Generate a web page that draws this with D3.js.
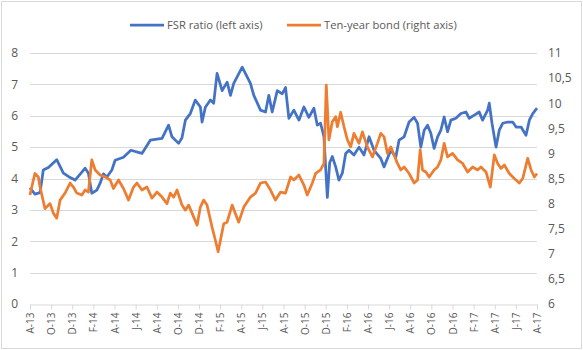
<!DOCTYPE html>
<html>
<head>
<meta charset="utf-8">
<script src="https://cdn.jsdelivr.net/npm/d3@7"></script>
<style>
  html, body { margin: 0; padding: 0; background: #fff; }
  svg text { font-family: "Open Sans", "Noto Sans", sans-serif; fill: #595959; }
</style>
</head>
<body>
<div id="chart"></div>
<script>
/* FSR ratio vs ten-year bond, dual axis line chart */

// x positions are months since Aug 2013
const monthLabels = ["A-13", "O-13", "D-13", "F-14", "A-14", "J-14", "A-14", "O-14", "D-14",
  "F-15", "A-15", "J-15", "A-15", "O-15", "D-15", "F-16", "A-16", "J-16", "A-16",
  "O-16", "D-16", "F-17", "A-17", "J-17", "A-17"];
const leftTicks = [0, 1, 2, 3, 4, 5, 6, 7, 8];
const rightTicks = [6, 6.5, 7, 7.5, 8, 8.5, 9, 9.5, 10, 10.5, 11];
const seriesNames = ["FSR ratio (left axis)", "Ten-year bond (right axis)"];

const fsr = [
  [0, 3.7], [0.47, 3.5], [0.95, 3.55], [1.26, 4.27], [1.74, 4.35], [2.53, 4.6], [3.16, 4.17],
  [3.7, 4.05], [4.27, 3.95], [4.91, 4.2], [5.22, 4.33], [5.53, 4.17], [5.85, 3.53], [6.33, 3.63],
  [6.64, 3.85], [6.95, 4.15], [7.28, 4.05], [7.75, 4.27], [8.06, 4.58], [8.85, 4.68], [9.55, 4.9],
  [10.6, 4.8], [11.39, 5.22], [12.5, 5.28], [13.12, 5.7], [13.44, 5.33], [14.07, 5.12],
  [14.39, 5.3], [14.71, 5.86], [15.18, 6.07], [15.65, 6.5], [16.13, 6.28], [16.29, 5.8],
  [16.6, 6.27], [17.08, 6.5], [17.39, 6.4], [17.71, 7.35], [18.19, 6.8], [18.66, 7.07],
  [18.98, 6.65], [19.29, 7.03], [19.61, 7.24], [20.09, 7.55], [20.56, 7.24], [20.87, 7.03],
  [21.19, 6.65], [21.82, 6.18], [22.3, 6.12], [22.61, 6.65], [22.93, 6.12], [23.41, 6.8],
  [23.88, 6.7], [24.19, 6.9], [24.51, 5.92], [24.98, 6.18], [25.46, 5.86], [25.93, 6.28],
  [26.4, 5.95], [26.88, 6.24], [27.2, 5.7], [27.51, 5.76], [27.83, 5.33], [28.15, 3.4],
  [28.37, 4.5], [28.62, 4.7], [28.94, 4.37], [29.25, 3.95], [29.57, 4.17], [29.89, 4.8],
  [30.2, 4.9], [30.67, 4.75], [31.15, 5.0], [31.62, 4.75], [32.1, 5.33], [32.57, 4.9],
  [33.21, 4.64], [33.52, 4.37], [34.16, 4.9], [34.63, 4.68], [34.94, 5.22], [35.42, 5.33],
  [35.89, 5.8], [36.37, 5.95], [36.69, 5.76], [37.0, 5.0], [37.32, 5.54], [37.64, 5.7],
  [37.95, 5.44], [38.26, 4.96], [38.59, 5.33], [38.9, 5.54], [39.21, 5.96], [39.53, 5.49],
  [39.85, 5.86], [40.32, 5.92], [40.8, 6.07], [41.27, 6.12], [41.58, 5.92], [42.06, 6.02],
  [42.53, 6.12], [42.85, 5.86], [43.33, 6.18], [43.48, 6.4], [43.74, 5.76], [44.12, 5.0],
  [44.43, 5.54], [44.75, 5.76], [45.23, 5.8], [45.7, 5.8], [46.02, 5.64], [46.49, 5.64],
  [46.96, 5.38], [47.28, 5.86], [47.6, 6.07], [48, 6.24]
];

const bond = [
  [0, 8.17], [0.32, 8.47], [0.47, 8.6], [0.79, 8.53], [0.95, 8.33], [1.42, 7.9], [1.9, 8.0],
  [2.21, 7.81], [2.53, 7.71], [2.85, 8.07], [3.32, 8.21], [3.8, 8.41], [4.11, 8.33], [4.43, 8.21],
  [4.91, 8.17], [5.22, 8.27], [5.53, 8.23], [5.85, 8.87], [6.17, 8.67], [6.64, 8.57], [7.12, 8.53],
  [7.59, 8.47], [7.9, 8.3], [8.38, 8.47], [8.85, 8.3], [9.33, 8.07], [9.8, 8.33], [10.12, 8.41],
  [10.6, 8.27], [11.07, 8.33], [11.55, 8.11], [12.02, 8.23], [12.5, 8.13], [12.97, 8.0],
  [13.28, 8.21], [13.6, 8.13], [13.92, 8.27], [14.39, 7.97], [14.71, 7.87], [15.02, 7.97],
  [15.5, 7.73], [15.82, 7.57], [16.13, 7.93], [16.44, 8.07], [16.76, 7.97], [17.24, 7.53],
  [17.55, 7.27], [17.81, 7.04], [18.03, 7.27], [18.34, 7.6], [18.66, 7.63], [19.14, 7.97],
  [19.45, 7.8], [19.76, 7.63], [20.24, 7.93], [20.87, 8.13], [21.35, 8.21], [21.82, 8.41],
  [22.3, 8.43], [22.77, 8.27], [23.24, 8.07], [23.72, 8.23], [24.19, 8.21], [24.67, 8.53],
  [24.98, 8.47], [25.46, 8.57], [25.93, 8.37], [26.25, 8.17], [26.73, 8.41], [27.04, 8.6],
  [27.51, 8.67], [27.83, 8.8], [28.05, 10.36], [28.3, 9.27], [28.62, 9.63], [28.94, 9.73],
  [29.1, 9.53], [29.41, 9.82], [29.73, 9.53], [30.05, 9.27], [30.36, 9.13], [30.67, 9.4],
  [31.15, 9.2], [31.47, 9.43], [31.94, 9.13], [32.42, 8.93], [32.89, 9.2], [33.21, 9.4],
  [33.52, 9.33], [33.84, 9.0], [34.16, 9.13], [34.47, 8.97], [34.79, 8.8], [35.1, 8.67],
  [35.42, 8.73], [35.89, 8.6], [36.37, 8.41], [36.69, 8.47], [36.94, 9.07], [37.16, 8.67],
  [37.48, 8.63], [37.79, 8.53], [38.26, 8.67], [38.59, 8.73], [38.9, 8.87], [39.21, 9.2],
  [39.53, 8.93], [40.01, 9.0], [40.48, 8.87], [40.96, 8.8], [41.43, 8.63], [41.91, 8.73],
  [42.38, 8.67], [42.69, 8.73], [43.17, 8.63], [43.58, 8.33], [43.96, 8.97], [44.28, 8.8],
  [44.59, 8.7], [44.91, 8.77], [45.38, 8.6], [45.85, 8.5], [46.33, 8.41], [46.65, 8.5],
  [47.12, 8.9], [47.44, 8.67], [47.75, 8.53], [48, 8.6]
];

const width = 583;
const height = 350;
const margin = { top: 53, right: 46, bottom: 46, left: 30 };

const svg = d3.select("#chart")
  .append("svg")
  .attr("width", width)
  .attr("height", height);

// outer frame
svg.append("rect")
  .attr("x", 1.5).attr("y", 1.5)
  .attr("width", width - 3).attr("height", height - 3)
  .attr("fill", "#fff")
  .attr("stroke", "#d9d9d9");

const x = d3.scaleLinear()
  .domain([0, 48])
  .range([margin.left, width - margin.right]);

const yLeft = d3.scaleLinear()
  .domain([0, 8])
  .range([height - margin.bottom, margin.top]);

const yRight = d3.scaleLinear()
  .domain([6, 11])
  .range([height - margin.bottom, margin.top]);

// Grid
svg.append("g")
  .selectAll("line")
  .data(leftTicks.slice(1))
  .join("line")
  .attr("x1", margin.left)
  .attr("x2", width - margin.right)
  .attr("y1", d => Math.round(yLeft(d)) + 0.5)
  .attr("y2", d => Math.round(yLeft(d)) + 0.5)
  .attr("stroke", "#d9d9d9");

// Left axis
svg.append("g")
  .attr("transform", `translate(${margin.left}, 0)`)
  .call(d3.axisLeft(yLeft).tickValues(leftTicks).tickSize(0).tickPadding(12))
  .call(g => g.select(".domain").remove())
  .call(g => g.selectAll("text").attr("font-size", 12).attr("fill", "#595959"));

// Right axis
svg.append("g")
  .attr("transform", `translate(${width - margin.right}, 0)`)
  .call(d3.axisRight(yRight).tickValues(rightTicks).tickSize(0).tickPadding(11)
    .tickFormat(d => String(d).replace(".", ",")))
  .call(g => g.select(".domain").remove())
  .call(g => g.selectAll("text").attr("font-size", 12).attr("fill", "#595959"));

// Bottom axis
const xAxis = svg.append("g")
  .attr("transform", `translate(0, ${Math.round(yLeft(0)) + 0.5})`)
  .call(d3.axisBottom(x).tickValues(d3.range(0, 49, 2)).tickSize(5)
    .tickFormat((d, i) => monthLabels[i]));
xAxis.select(".domain").attr("stroke", "#d9d9d9");
xAxis.selectAll(".tick line").attr("stroke", "#d9d9d9");
xAxis.selectAll("text")
  .attr("font-size", 10)
  .attr("fill", "#595959")
  .attr("text-anchor", "end")
  .attr("transform", "rotate(-90)")
  .attr("x", -8)
  .attr("y", 0)
  .attr("dy", "0.35em");

// Lines
const lineL = d3.line().x(d => x(d[0])).y(d => yLeft(d[1]));
const lineR = d3.line().x(d => x(d[0])).y(d => yRight(d[1]));

svg.append("path")
  .datum(fsr)
  .attr("d", lineL)
  .attr("fill", "none")
  .attr("stroke", "#4472c4")
  .attr("stroke-width", 2.75)
  .attr("stroke-linejoin", "round");

svg.append("path")
  .datum(bond)
  .attr("d", lineR)
  .attr("fill", "none")
  .attr("stroke", "#ed7d31")
  .attr("stroke-width", 2.75)
  .attr("stroke-linejoin", "round");

// Legend
const legend = svg.append("g").attr("transform", "translate(0, 25)");
const legendItems = [
  { name: seriesNames[0], color: "#4472c4", x0: 130 },
  { name: seriesNames[1], color: "#ed7d31", x0: 287 }
];
legendItems.forEach(d => {
  legend.append("line")
    .attr("x1", d.x0).attr("x2", d.x0 + 34)
    .attr("y1", 0).attr("y2", 0)
    .attr("stroke", d.color)
    .attr("stroke-width", 2.75);
  legend.append("text")
    .attr("x", d.x0 + 37)
    .attr("y", 0)
    .attr("dy", "0.35em")
    .attr("font-size", 11.2)
    .text(d.name);
});
</script>
</body>
</html>
